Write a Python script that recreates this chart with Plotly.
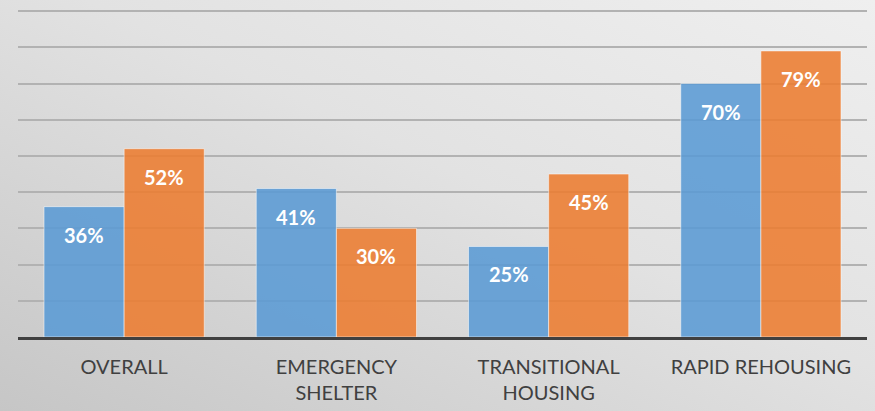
import base64
import plotly.graph_objects as go

categories = ["OVERALL", "EMERGENCY<br>SHELTER", "TRANSITIONAL<br>HOUSING", "RAPID REHOUSING"]
series_a = [36, 41, 25, 70]
series_b = [52, 30, 45, 79]
labels_a = [f"{v}%" for v in series_a]
labels_b = [f"{v}%" for v in series_b]

svg = """<svg xmlns='http://www.w3.org/2000/svg' width='875' height='411' viewBox='0 0 875 411' preserveAspectRatio='none'>
<defs><linearGradient id='g' x1='0' y1='1' x2='1' y2='0'>
<stop offset='0' stop-color='#c6c6c6'/><stop offset='0.55' stop-color='#e2e2e2'/><stop offset='1' stop-color='#efefef'/>
</linearGradient></defs><rect width='875' height='411' fill='url(#g)'/></svg>"""
bg = "data:image/svg+xml;base64," + base64.b64encode(svg.encode()).decode()

fig = go.Figure()
fig.add_trace(go.Bar(x=categories, y=series_a, marker=dict(color="#5B9BD5", opacity=0.88,
                     line=dict(color="rgba(255,255,255,0.55)", width=1)), hoverinfo="skip"))
fig.add_trace(go.Bar(x=categories, y=series_b, marker=dict(color="#ED7D31", opacity=0.88,
                     line=dict(color="rgba(255,255,255,0.55)", width=1)), hoverinfo="skip"))

annotations = []
for cat, v, t in zip(categories, series_a, labels_a):
    annotations.append(dict(x=cat, y=v, text=f"<b>{t}</b>", showarrow=False, xshift=-40, yshift=-28,
                            font=dict(color="white", size=20, family="Lato")))
for cat, v, t in zip(categories, series_b, labels_b):
    annotations.append(dict(x=cat, y=v, text=f"<b>{t}</b>", showarrow=False, xshift=40, yshift=-28,
                            font=dict(color="white", size=20, family="Lato")))

fig.update_layout(
    width=875, height=411,
    margin=dict(l=18, r=8, t=10, b=74, autoexpand=False),
    paper_bgcolor="#dedede", plot_bgcolor="rgba(0,0,0,0)",
    barmode="group", bargap=0.245, bargroupgap=0,
    showlegend=False,
    annotations=annotations,
    images=[dict(source=bg, xref="paper", yref="paper", x=-18/849, y=1+10/327, sizex=875/849, sizey=411/327,
                 xanchor="left", yanchor="top", sizing="stretch", layer="below")],
    xaxis=dict(showline=True, linecolor="#404040", linewidth=3, ticks="outside", ticklen=10,
               tickcolor="rgba(0,0,0,0)", tickfont=dict(family="Lato", size=20, color="#404040"),
               showgrid=False, automargin=False),
    yaxis=dict(range=[0, 90.3], tick0=0, dtick=10, showticklabels=False, gridcolor="#b2b2b2", gridwidth=1.5,
               zeroline=False, fixedrange=True, automargin=False),
)
fig.write_html("out.html", config={"displayModeBar": False},
               post_script="document.body.style.margin='0';document.body.style.overflow='hidden';")
